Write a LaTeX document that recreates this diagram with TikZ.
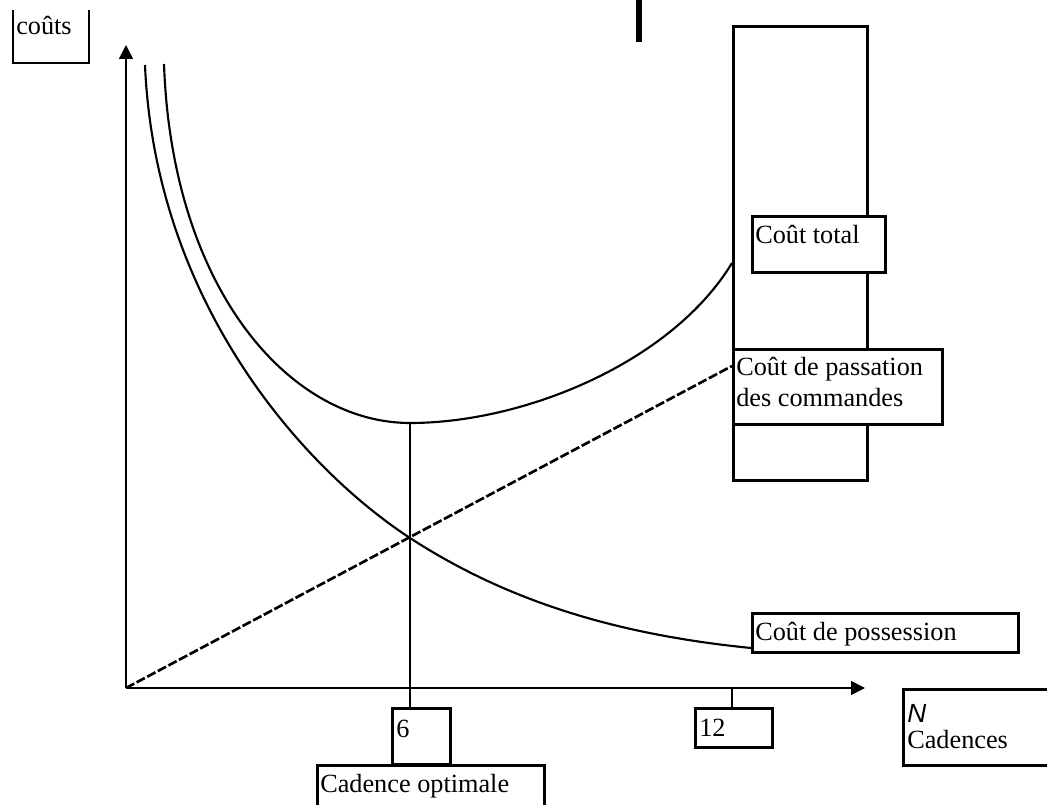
\documentclass[tikz,border=0pt]{standalone}
\usepackage{fontspec}
\setmainfont{Liberation Serif}
\newfontfamily\nsans{Liberation Sans}
\usetikzlibrary{arrows.meta,calc}
\begin{document}
\begin{tikzpicture}[x=0.75pt,y=-0.75pt,
  boxst/.style={draw=black, fill=white, line width=2pt, inner sep=0pt, anchor=north west},
  txt/.style={inner sep=0pt, anchor=base west, font=\fontsize{19.7pt}{23.3pt}\selectfont},
  axisst/.style={line width=1.2pt, -{Triangle[width=10.5pt,length=10.5pt]}},
  curvest/.style={line width=1.6pt, line join=round},
  dashst/.style={line width=2pt, dash pattern=on 7pt off 2pt},
  guidest/.style={line width=1.8pt}]
\useasboundingbox (0,0) rectangle (1047,805);
\clip (0,0) rectangle (1047,805);

% open box for the y label
\draw[line width=2pt] (13,10) -- (13,63) -- (89,63) -- (89,10);
\node[txt] (couts) at (16,35) {coûts};

% short thick mark at the top
\draw[line width=4.5pt] (639,-2) -- (639,42);

% boxes
\node[boxst, minimum width=100.5pt, minimum height=340.5pt] (tall) at (732,25) {};
\node[boxst, minimum width=99.75pt, minimum height=42pt] (tot) at (751,215) {};
\node[boxst, minimum width=156.75pt, minimum height=56.25pt] (pass) at (732,348) {};
\node[boxst, minimum width=199.5pt, minimum height=29.25pt] (poss) at (751,612) {};
\node[boxst, minimum width=43.5pt, minimum height=42pt] (six) at (391,707) {};
\node[boxst, minimum width=57.75pt, minimum height=29.25pt] (twelve) at (694,707) {};
\node[boxst, minimum width=170.25pt, minimum height=48pt] (opt) at (316,764) {};
\node[boxst, minimum width=130pt, minimum height=57pt] (cad) at (902,688) {};

% texts
\node[txt] (ttot) at (755,244) {Coût total};
\node[txt] (tpass1) at (736,376) {Coût de passation};
\node[txt] (tpass2) at (736,407) {des commandes};
\node[txt] (tposs) at (755,641) {Coût de possession};
\node[txt] (tsix) at (396,737) {6};
\node[txt] (ttwelve) at (699,736) {12};
\node[txt] (topt) at (320,792) {Cadence optimale};
\node[txt, font=\fontsize{19.7pt}{23.3pt}\selectfont\nsans\itshape] (tN) at (907,722) {N};
\node[txt] (tcad) at (907,748) {Cadences};

% axes
\coordinate (O) at (126,688);
\coordinate (ytip) at (126,45);
\coordinate (xtip) at (865,688);
\draw[axisst] (O) -- (ytip);
\draw[axisst] (O) -- (xtip);

% key points
\coordinate (starttot) at (164,64);
\coordinate (mintot) at (410,423);
\coordinate (endtot) at (732,263);
\coordinate (startposs) at (145,65);
\coordinate (cross) at (410,538);
\coordinate (endposs) at (751,648);
\coordinate (endpass) at ($(pass.north west)+(0,18)$);
\coordinate (t12) at (732,688);

% guides
\draw[guidest] (mintot) -- (mintot |- six.north);
\draw[guidest] (t12) -- (t12 |- twelve.north);

% passation cost (dashed line)
\draw[dashst] (O) -- (endpass);

% holding cost
\draw[curvest] (startposs) .. controls (155,300) and (300,466) .. (cross)
  .. controls (510,603) and (621,635) .. (endposs);

% total cost
\draw[curvest] (starttot) .. controls (172,290) and (290,423) .. (mintot)
  .. controls (525,423) and (672,362) .. (endtot);
\end{tikzpicture}
\end{document}
